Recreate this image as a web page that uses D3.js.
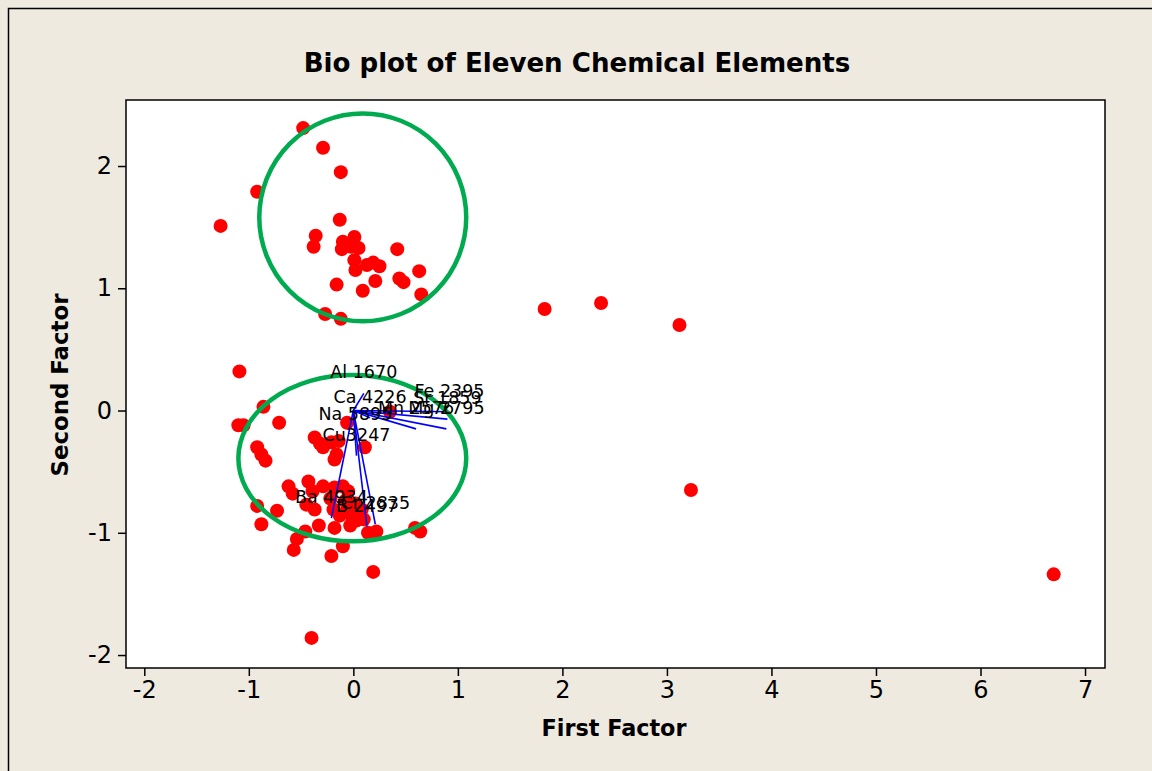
<!DOCTYPE html>
<html><head><meta charset="utf-8">
<script src="https://cdn.jsdelivr.net/npm/d3@7"></script>
<style>body{margin:0;background:#EEEAE0;overflow:hidden} svg{display:block}</style>
</head><body>
<svg id="c" width="1152" height="771"></svg>
<script>
// ---- data ----
const scoreX = [
 -0.48,-0.29,-0.12,-0.92,-1.27,-0.13,-0.36,-0.38,-0.10,0.01,0.05,-0.11,-0.02,0.01,0.02,0.13,0.25,0.19,0.42,0.63,0.44,0.48,0.21,-0.16,0.09,0.65,-0.27,-0.12,
 1.83,2.37,3.12,3.23,6.70,
 -1.09,-0.86,-1.10,-1.05,-0.71,-0.06,-0.92,-0.88,-0.84,-0.37,-0.32,-0.29,-0.21,-0.14,-0.16,-0.18,0.11,0.35,
 -0.62,-0.58,-0.43,-0.29,-0.18,-0.10,-0.05,-0.45,-0.37,-0.92,-0.73,-0.88,-0.19,-0.13,-0.06,-0.02,0.03,0.10,
 -0.18,-0.33,-0.46,-0.54,-0.57,-0.10,-0.21,0.14,0.22,0.59,0.64,0.19,-0.40,
 -0.08,0.02,0.08,-0.03,-0.22,-0.39
];
const scoreY = [
 2.31,2.15,1.95,1.79,1.51,1.56,1.43,1.34,1.38,1.42,1.33,1.32,1.34,1.23,1.15,1.19,1.18,1.21,1.32,1.14,1.08,1.05,1.06,1.03,0.98,0.95,0.79,0.75,
 0.83,0.88,0.70,-0.65,-1.34,
 0.32,0.03,-0.12,-0.12,-0.10,-0.10,-0.30,-0.36,-0.41,-0.22,-0.27,-0.30,-0.26,-0.25,-0.36,-0.40,-0.30,-0.01,
 -0.62,-0.68,-0.58,-0.62,-0.63,-0.62,-0.66,-0.77,-0.81,-0.78,-0.82,-0.93,-0.81,-0.86,-0.81,-0.86,-0.90,-0.89,
 -0.96,-0.94,-0.99,-1.05,-1.14,-1.11,-1.19,-1.00,-0.99,-0.96,-0.99,-1.32,-1.86,
 -0.74,-0.76,-0.81,-0.94,-0.72,-0.66
];
const elementNames = ["Al 1670","Ca 4226","Na 5895","Cu3247","Fe 2395","Sr 1859","Mn 2576","Mg 2795","Ba 4934","B 2497","Cr 2835"];
const loadingX = [0.10, 0.16, 0.02, 0.03, 0.92, 0.90, 0.60, 0.89, -0.21, 0.13, 0.21];
const loadingY = [0.14,-0.06,-0.20,-0.37,-0.01,-0.07,-0.15,-0.15,-0.88,-0.95,-0.93];
const xTicks = [-2,-1,0,1,2,3,4,5,6,7];
const yTicks = [-2,-1,0,1,2];
const groupCenterX = [0.09,-0.01];
const groupCenterY = [1.58,-0.39];
const groupRadiusX = [0.99,1.09];
const groupRadiusY = [0.85,0.68];
const titleText = "Bio plot of Eleven Chemical Elements";
const xTitle = "First Factor", yTitle = "Second Factor";

// ---- layout ----
const W = 1152, H = 771;
const L = 126, R = 1105, T = 100, B = 668;
const svg = d3.select("#c");
const font = "'DejaVu Sans', Verdana, sans-serif";

svg.append("rect").attr("x",0).attr("y",0).attr("width",W).attr("height",H).attr("fill","#EEEAE0");
svg.append("rect").attr("x",8.5).attr("y",8.5).attr("width",W+20).attr("height",H+20)
   .attr("fill","none").attr("stroke","#000").attr("stroke-width",1.5);

const x = d3.scaleLinear().domain([-2.175, 7.191]).range([L, R]);
const y = d3.scaleLinear().domain([-2.106, 2.54]).range([B, T]);

svg.append("rect").attr("x",L).attr("y",T).attr("width",R-L).attr("height",B-T)
   .attr("fill","#fff");

const plot = svg.append("g");
const idx = d3.range(scoreX.length);
plot.selectAll("circle.pt").data(idx).join("circle").attr("class","pt")
  .attr("cx",i=>x(scoreX[i])).attr("cy",i=>y(scoreY[i])).attr("r",7).attr("fill","#FF0000");

const vi = d3.range(elementNames.length);
plot.selectAll("line.vec").data(vi).join("line").attr("class","vec")
  .attr("x1",x(0)).attr("y1",y(0))
  .attr("x2",i=>x(loadingX[i])).attr("y2",i=>y(loadingY[i]))
  .attr("stroke","#0000FF").attr("stroke-width",1.6);

plot.selectAll("ellipse.grp").data(d3.range(groupCenterX.length)).join("ellipse").attr("class","grp")
  .attr("cx",i=>x(groupCenterX[i])).attr("cy",i=>y(groupCenterY[i]))
  .attr("rx",i=>x(groupRadiusX[i])-x(0)).attr("ry",i=>y(0)-y(groupRadiusY[i]))
  .attr("fill","none").attr("stroke","#00AA4F").attr("stroke-width",4.5);

plot.selectAll("text.vl").data(vi).join("text").attr("class","vl")
  .attr("x",i=>x(loadingX[i])).attr("y",i=>y(loadingY[i])-15)
  .attr("text-anchor","middle").attr("font-family",font).attr("font-size",17.5)
  .attr("fill","#000").text(i=>elementNames[i]);

svg.append("rect").attr("x",L).attr("y",T).attr("width",R-L).attr("height",B-T)
   .attr("fill","none").attr("stroke","#000").attr("stroke-width",1.5);

// axes
const xAxis = svg.append("g").attr("transform",`translate(0,${B})`)
  .call(d3.axisBottom(x).tickValues(xTicks).tickSize(8).tickPadding(5).tickFormat(d3.format("d")));
const yAxis = svg.append("g").attr("transform",`translate(${L},0)`)
  .call(d3.axisLeft(y).tickValues(yTicks).tickSize(8).tickPadding(6).tickFormat(d3.format("d")));
[xAxis,yAxis].forEach(a=>{
  a.select(".domain").remove();
  a.selectAll(".tick line").attr("stroke","#000").attr("stroke-width",1.5);
  a.selectAll(".tick text").attr("font-family",font).attr("font-size",24).attr("fill","#000")
   .text(d=>d<0? "-"+Math.abs(d) : d);
});

function fitText(sel, target){
  const w = sel.node().getComputedTextLength();
  const fs = parseFloat(sel.attr("font-size"));
  sel.attr("font-size", fs*target/w);
}
const tt = svg.append("text").attr("x",577).attr("y",72).attr("text-anchor","middle")
  .attr("font-family",font).attr("font-weight","bold").attr("font-size",26).attr("fill","#000").text(titleText);
fitText(tt,547);
const xt = svg.append("text").attr("x",614).attr("y",736).attr("text-anchor","middle")
  .attr("font-family",font).attr("font-weight","bold").attr("font-size",22).attr("fill","#000").text(xTitle);
fitText(xt,145);
const yt = svg.append("text").attr("transform","translate(68,385) rotate(-90)").attr("text-anchor","middle")
  .attr("font-family",font).attr("font-weight","bold").attr("font-size",22).attr("fill","#000").text(yTitle);
fitText(yt,183);
</script>
</body></html>
